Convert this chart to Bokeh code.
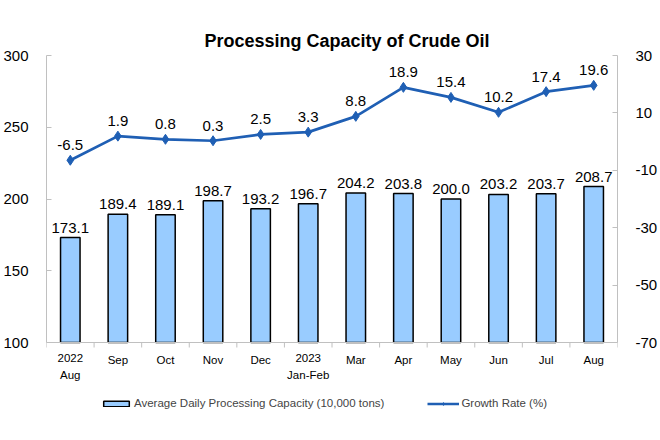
from bokeh.plotting import figure
from bokeh.models import (ColumnDataSource, Range1d, LinearAxis, FixedTicker,
                          Legend, LegendItem, LabelSet, Span)
from bokeh.core.properties import value
from bokeh.embed import file_html
from bokeh.resources import INLINE

month_line1 = ["2022", "Sep", "Oct", "Nov", "Dec", "2023",
               "Mar", "Apr", "May", "Jun", "Jul", "Aug"]
month_line2 = ["Aug", "", "", "", "", "Jan-Feb", "", "", "", "", "", ""]
capacity = [173.1, 189.4, 189.1, 198.7, 193.2, 196.7, 204.2, 203.8, 200.0, 203.2, 203.7, 208.7]
growth = [-6.5, 1.9, 0.8, 0.3, 2.5, 3.3, 8.8, 18.9, 15.4, 10.2, 17.4, 19.6]
left_ticks = [100, 150, 200, 250, 300]
right_ticks = [-70, -50, -30, -10, 10, 30]

FONT = "Liberation Sans"
BAR_FILL = "#99ccff"
LINE_C = "#1f5fb4"
AXIS_C = "#c0c0c0"

# layout (pixels)
PLOT_H = 287          # height of the value area
EXTRA_H = 88          # area below the value area for category labels + legend
FRAME_W = 571
px_left = PLOT_H / (left_ticks[-1] - left_ticks[0])
px_right = PLOT_H / (right_ticks[-1] - right_ticks[0])

n = len(capacity)
xs = list(range(1, n + 1))
src = ColumnDataSource(dict(
    x=xs, cap=capacity, gr=growth,
    cap_lbl=["%.1f" % v for v in capacity],
    gr_lbl=["%.1f" % v for v in growth],
    m1=month_line1, m2=month_line2,
    base=[left_ticks[0]] * n,
))
bounds = [i + 0.5 for i in range(0, n + 1)]
tick_src = ColumnDataSource(dict(
    x=bounds,
    y0=[left_ticks[0]] * len(bounds),
    y1=[left_ticks[0] - 5 / px_left] * len(bounds),
))

p = figure(frame_width=FRAME_W, frame_height=PLOT_H + EXTRA_H,
           output_backend="svg", toolbar_location=None,
           x_range=Range1d(0.5, n + 0.5),
           y_range=Range1d(left_ticks[0] - EXTRA_H / px_left, left_ticks[-1]),
           x_axis_location=None,
           min_border_left=46, min_border_right=43, min_border_top=55,
           min_border_bottom=10)
p.extra_y_ranges = {"right": Range1d(right_ticks[0] - EXTRA_H / px_right, right_ticks[-1])}

p.title.text = "Processing Capacity of Crude Oil"
p.title.align = "left"
p.title.offset = 158
p.title.text_font = FONT
p.title.text_font_size = "18px"
p.title.text_font_style = "bold"
p.title.text_color = "#000000"

p.grid.visible = False
p.outline_line_color = None
p.background_fill_color = "white"
p.border_fill_color = "white"

# category axis (drawn at value 100)
p.add_layout(Span(location=left_ticks[0], dimension="width",
                  line_color=AXIS_C, line_width=1))
p.segment(x0="x", y0="y0", x1="x", y1="y1", source=tick_src,
          line_color=AXIS_C, line_width=1)
p.add_layout(LabelSet(x="x", y="base", text="m1", source=src, y_offset=-11,
                      text_align="center", text_baseline="top",
                      text_font=value(FONT), text_font_size="11.5px", text_color="#000000"))
p.add_layout(LabelSet(x="x", y="base", text="m2", source=src, y_offset=-26,
                      text_align="center", text_baseline="top",
                      text_font=value(FONT), text_font_size="11.5px", text_color="#000000"))

# bars
bars = p.vbar(x="x", bottom="base", top="cap", width=0.41, source=src,
              fill_color=BAR_FILL, line_color="#000000", line_width=1.5)
# line
ln = p.line(x="x", y="gr", source=src, y_range_name="right",
            line_color=LINE_C, line_width=2.7)
mk = p.scatter(x="x", y="gr", source=src, y_range_name="right", marker="diamond",
               size=10, fill_color=LINE_C, line_color=LINE_C)

p.add_layout(LabelSet(x="x", y="cap", text="cap_lbl", source=src, y_offset=5,
                      text_align="center", text_baseline="alphabetic",
                      text_font=value(FONT), text_font_size="15px", text_color="#000000"))
p.add_layout(LabelSet(x="x", y="gr", text="gr_lbl", source=src, y_offset=10,
                      y_range_name="right",
                      text_align="center", text_baseline="alphabetic",
                      text_font=value(FONT), text_font_size="15px", text_color="#000000"))

# value axes
def style_axis(ax):
    ax.axis_line_color = AXIS_C
    ax.major_tick_line_color = AXIS_C
    ax.minor_tick_line_color = None
    ax.major_label_text_font = FONT
    ax.major_label_text_color = "#000000"
    ax.major_tick_in = 5
    ax.major_tick_out = 0
    ax.major_label_text_font_size = "15px"

ya = p.yaxis[0]
style_axis(ya)
ya.ticker = FixedTicker(ticks=left_ticks)
ya.bounds = (left_ticks[0], left_ticks[-1])
ya.major_label_overrides = {t: str(t) for t in left_ticks}
ya.major_label_standoff = 18

ra = LinearAxis(y_range_name="right", ticker=FixedTicker(ticks=right_ticks),
                bounds=(right_ticks[0], right_ticks[-1]))
style_axis(ra)
ra.major_label_overrides = {t: str(t) for t in right_ticks}
ra.major_label_standoff = 18
p.add_layout(ra, "right")

legend = Legend(items=[
    LegendItem(label="Average Daily Processing Capacity (10,000 tons)", renderers=[bars]),
    LegendItem(label="Growth Rate (%)", renderers=[ln, mk]),
], orientation="horizontal", location=(54, 21), border_line_color=None,
    background_fill_alpha=0,
    label_text_font=FONT, label_text_font_size="11.5px", spacing=43,
    glyph_width=32, glyph_height=7, label_standoff=2, margin=0, padding=0)
p.add_layout(legend, "center")

open("out.html", "w").write(file_html(p, INLINE))
